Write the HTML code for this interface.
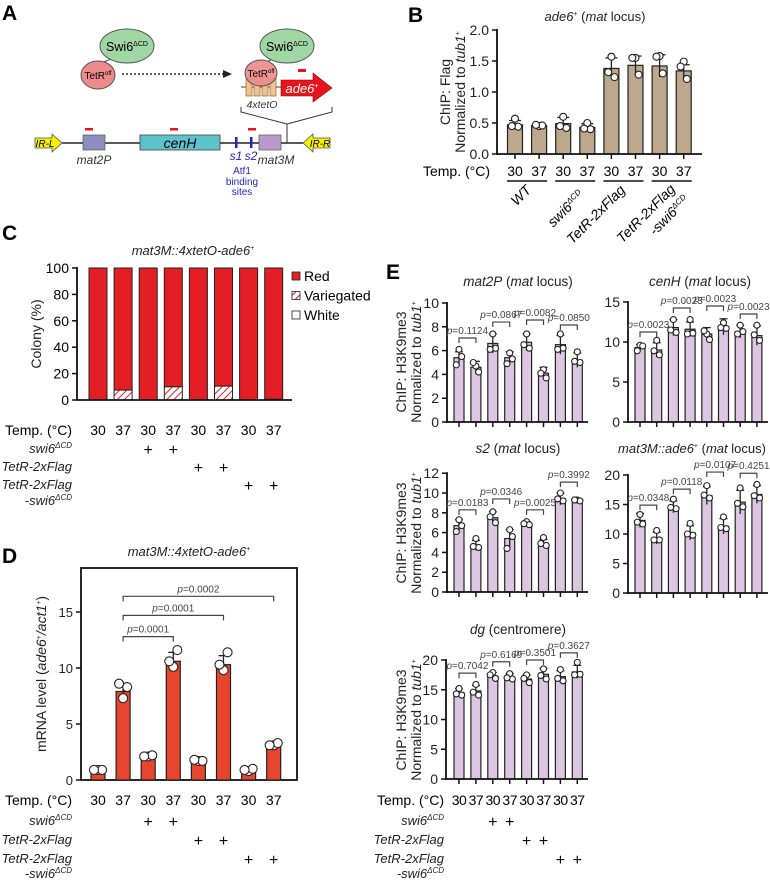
<!DOCTYPE html>
<html><head><meta charset="utf-8"><style>
html,body{margin:0;padding:0;background:#fff}
svg{display:block;font-family:"Liberation Sans",Arial,sans-serif}
</style></head><body>
<svg id="fig" width="770" height="880" viewBox="0 0 770 880" xmlns="http://www.w3.org/2000/svg">
<defs>
<pattern id="hatch" width="5" height="5" patternUnits="userSpaceOnUse" patternTransform="rotate(45)">
<rect width="5" height="5" fill="#fff"/><line x1="0" y1="0" x2="0" y2="5" stroke="#e31e24" stroke-width="2"/>
</pattern>
</defs>
<!-- Panel A -->
<g>
<text x="2" y="20" font-size="21" font-weight="bold">A</text>
<line x1="104" y1="62" x2="118" y2="56" stroke="#555" stroke-width="1"/>
<ellipse cx="127" cy="46" rx="27" ry="17" fill="#9fd6a4" stroke="#555"/>
<text x="127" y="51" font-size="12.5" text-anchor="middle">Swi6<tspan font-size="7" dy="-5">ΔCD</tspan></text>
<ellipse cx="98" cy="75" rx="17" ry="14" fill="#ee8a8a" stroke="#555"/>
<text x="98" y="79" font-size="10" text-anchor="middle">TetR<tspan font-size="6" dy="-4">off</tspan></text>
<line x1="122" y1="74" x2="226" y2="74" stroke="#222" stroke-width="1.6" stroke-dasharray="2,2"/>
<polygon points="232,74 223,70 223,78" fill="#222"/>
<line x1="241" y1="87" x2="282" y2="87" stroke="#444" stroke-width="1"/>
<g>
<rect x="246" y="78" width="6" height="18" fill="#f5c08a" stroke="#8a6a40" stroke-width="0.7"/>
<rect x="254" y="78" width="6" height="18" fill="#f5c08a" stroke="#8a6a40" stroke-width="0.7"/>
<rect x="262" y="78" width="6" height="18" fill="#f5c08a" stroke="#8a6a40" stroke-width="0.7"/>
<rect x="270" y="78" width="6" height="18" fill="#f5c08a" stroke="#8a6a40" stroke-width="0.7"/>
</g>
<line x1="266" y1="62" x2="278" y2="57" stroke="#555" stroke-width="1"/>
<ellipse cx="287" cy="46" rx="27" ry="17" fill="#9fd6a4" stroke="#555"/>
<text x="287" y="51" font-size="12.5" text-anchor="middle">Swi6<tspan font-size="7" dy="-5">ΔCD</tspan></text>
<ellipse cx="261" cy="73" rx="16" ry="13" fill="#ee8a8a" stroke="#555" fill-opacity="0.9"/>
<text x="261" y="77" font-size="10" text-anchor="middle">TetR<tspan font-size="6" dy="-4">off</tspan></text>
<polygon points="281,80 313,80 313,73 332,88 313,102 313,96 281,96" fill="#e8141c" stroke="#900" stroke-width="0.6"/>
<text x="302" y="93" font-size="13" font-style="italic" fill="#fff" text-anchor="middle">ade6<tspan font-size="7" dy="-5">+</tspan></text>
<rect x="298" y="69" width="8" height="3" fill="#e8141c"/>
<text x="262" y="108" font-size="10.5" font-style="italic" fill="#333" text-anchor="middle">4xtetO</text>
<polyline points="241,107 241,112 287,124 332,112 332,107" fill="none" stroke="#333" stroke-width="1"/>
<line x1="287" y1="124" x2="287" y2="143" stroke="#333" stroke-width="1"/>
<line x1="62" y1="143" x2="303" y2="143" stroke="#222" stroke-width="1.6"/>
<polygon points="35,138 52,138 52,134 62,143 52,152 52,148 35,148" fill="#f4f000" stroke="#555" stroke-width="0.8"/>
<text x="45" y="147" font-size="10" font-style="italic" text-anchor="middle">IR-L</text>
<polygon points="330,138 313,138 313,134 303,143 313,152 313,148 330,148" fill="#f4f000" stroke="#555" stroke-width="0.8"/>
<text x="320" y="147" font-size="10" font-style="italic" text-anchor="middle">IR-R</text>
<rect x="83" y="135" width="22" height="15" fill="#8d8fbf" stroke="#555" stroke-width="0.7"/>
<rect x="140" y="135" width="80" height="15" fill="#5cc3cc" stroke="#444" stroke-width="0.8"/>
<text x="180" y="148" font-size="14" font-style="italic" text-anchor="middle">cenH</text>
<rect x="259" y="135" width="22" height="15" fill="#b99acb" stroke="#555" stroke-width="0.7"/>
<rect x="235" y="137" width="2.5" height="11" fill="#2222cc"/><rect x="250" y="137" width="2.5" height="11" fill="#2222cc"/>
<rect x="85" y="128" width="8" height="2.5" fill="#e8141c"/><rect x="170" y="128" width="8" height="2.5" fill="#e8141c"/><rect x="248" y="128" width="8" height="2.5" fill="#e8141c"/>
<text x="94" y="164" font-size="12" font-style="italic" fill="#333" text-anchor="middle">mat2P</text>
<text x="276" y="164" font-size="12" font-style="italic" fill="#333" text-anchor="middle">mat3M</text>
<text x="236" y="160" font-size="12" font-style="italic" fill="#2222cc" text-anchor="middle">s1</text>
<text x="251" y="160" font-size="12" font-style="italic" fill="#2222cc" text-anchor="middle">s2</text>
<text x="242" y="174" font-size="10" fill="#2222cc" text-anchor="middle">Atf1</text>
<text x="242" y="185" font-size="10" fill="#2222cc" text-anchor="middle">binding</text>
<text x="242" y="195" font-size="10" fill="#2222cc" text-anchor="middle">sites</text>
</g>
<g id="charts"></g>
</svg>
<script>
// ---------- Data ----------
const categories = ['30','37','30','37','30','37','30','37'];
const bValues = [0.47,0.46,0.49,0.43,1.38,1.43,1.42,1.34];
const bSd = [0.07,0.01,0.1,0.06,0.17,0.15,0.18,0.1];
const bPoints = [[0.57,0.44,0.45],[0.45,0.46,0.47],[0.6,0.42,0.45],[0.5,0.4,0.41],[1.57,1.24,1.32],[1.55,1.28,1.55],[1.58,1.3,1.57],[1.49,1.21,1.41]];
const bTicks = ['0.0','0.5','1.0','1.5','2.0'];
const cVariegated = [0,7.5,0,10,0,10.5,0,0.5];
const cRed = [100,92.5,100,90,100,89.5,100,99.5];
const cTicks = [0,20,40,60,80,100];
const dValues = [0.9,7.9,2.1,10.6,1.7,10.3,0.9,3.0];
const dSd = [0.05,0.6,0.1,0.8,0.05,0.8,0.1,0.15];
const dPoints = [[0.9,0.9,0.9],[7.3,8.3,8.6],[2.1,2.2,2.1],[10.1,11.6,10.6],[1.7,1.7,1.8],[9.8,11.4,10.3],[0.8,1.0,0.9],[3.1,3.3,3.1]];
const dTicks = [0,5,10,15];
const dPvals = ['p=0.0001','p=0.0001','p=0.0002'];
const dPairs = [[1,3],[1,5],[1,7]];
const dPy = [12.8,14.7,16.4];
const e1Values = [5.4,4.6,6.6,5.4,6.7,4.1,6.5,5.2];
const e1Sd = [0.5,0.5,0.8,0.5,0.7,0.5,0.8,0.6];
const e1Points = [[6.1,5.5,4.8],[4.7,4.2,5.0],[7.4,6.2,6.1],[5.8,5.3,4.9],[7.4,6.2,6.5],[4.4,3.7,4.1],[7.4,6.2,6.1],[5.9,5.0,5.1]];
const e1P = ['p=0.1124','p=0.0867','p=0.0082','p=0.0850'];
const e1Ph = [7.06,8.4,8.57,8.15];
const e2Values = [9.3,9.0,11.8,11.6,11.0,11.9,11.3,10.8];
const e2Sd = [0.4,0.9,1.0,0.9,0.8,1.0,0.8,1.2];
const e2Points = [[9.6,9.5,8.9],[10.2,8.4,8.9],[12.8,11.2,11.5],[12.8,11.1,11.0],[11.0,10.3,11.4],[12.4,11.7,11.8],[12.1,11.3,11.0],[12.1,10.2,10.9]];
const e2P = ['p=0.0023','p=0.0023','p=0.0023','p=0.0023'];
const e2Ph = [11.25,14.25,14.5,13.5];
const e3Values = [6.7,4.7,7.5,5.4,6.9,4.9,9.4,9.2];
const e3Sd = [0.6,0.5,0.6,0.9,0.2,0.4,0.6,0.1];
const e3Points = [[7.3,6.7,6.1],[5.4,4.5,4.6],[8.1,7.0,7.6],[6.3,5.6,4.4],[7.1,6.8,6.9],[5.5,4.7,4.9],[10.0,9.2,9.4],[9.3,9.2,9.3]];
const e3P = ['p=0.0183','p=0.0346','p=0.0025','p=0.3992'];
const e3Ph = [8.3,9.4,8.3,11.1];
const e4Values = [12.3,9.3,14.6,10.2,16.5,11.3,15.4,16.7];
const e4Sd = [1.2,1.0,1.0,1.2,1.5,1.3,2.0,1.5];
const e4Points = [[13.3,11.7,12.0],[10.6,9.0,9.0],[15.9,14.3,14.5],[11.8,9.8,10.0],[18.2,16.1,16.6],[12.9,10.9,11.1],[17.8,14.6,15.2],[18.4,16.1,16.5]];
const e4P = ['p=0.0348','p=0.0118','p=0.0107','p=0.4251'];
const e4Ph = [14.9,17.6,20.5,20.3];
const e5Values = [14.5,14.8,17.3,17.1,16.8,17.6,17.2,18.0];
const e5Sd = [0.7,0.9,0.6,0.6,0.7,1.0,1.0,1.1];
const e5Points = [[15.2,14.1,14.3],[15.9,14.1,14.6],[17.9,16.9,17.5],[17.7,16.8,17.0],[17.5,16.2,16.9],[18.5,16.8,17.4],[18.4,16.5,16.9],[19.6,17.6,17.5]];
const e5P = ['p=0.7042','p=0.6169','p=0.3501','p=0.3627'];
const e5Ph = [17.8,19.7,20.0,21.2];

const NS='http://www.w3.org/2000/svg';
const root=document.getElementById('charts');
function mk(tag,attrs,parent,txt){const e=document.createElementNS(NS,tag);for(const k in attrs)e.setAttribute(k,attrs[k]);if(txt!==undefined)e.textContent=txt;(parent||root).appendChild(e);return e;}
function grp(name){const g=mk('g',{});


return g;}

function barChart(o){
  const g=grp(o.name);
  const y=v=>o.y0-v*o.k;
  const xs=o.values.map((_,i)=>o.x0+i*o.dx);
  o.values.forEach((v,i)=>{
    const r=mk('rect',{x:xs[i]-o.bw/2,y:y(v),width:o.bw,height:o.y0-y(v),fill:o.fill,stroke:'#222','stroke-width':1.2},g);
    
    
    const sd=o.sd[i];
    mk('line',{x1:xs[i],x2:xs[i],y1:y(v-sd),y2:y(v+sd),stroke:'#222','stroke-width':1.3},g);
    mk('line',{x1:xs[i]-o.cap,x2:xs[i]+o.cap,y1:y(v+sd),y2:y(v+sd),stroke:'#222','stroke-width':1.3},g);
    const offs=[0,o.pr*0.9,-o.pr*0.9];
    o.points[i].forEach((p,j)=>{
      const c=mk('circle',{cx:xs[i]+offs[j],cy:y(p),r:o.pr,fill:'#fff',stroke:'#222','stroke-width':1.1},g);
      
      
    });
    if(o.tickMarks) mk('line',{x1:xs[i],x2:xs[i],y1:o.y0,y2:o.y0+5,stroke:'#111','stroke-width':1.5},g);
  });
  if(!o.box){
    mk('line',{x1:o.ax,x2:o.ax,y1:y(o.tickVals[o.tickVals.length-1])-1,y2:o.y0+1,stroke:'#111','stroke-width':1.8},g);
    mk('line',{x1:o.ax,x2:o.axEnd,y1:o.y0,y2:o.y0,stroke:'#111','stroke-width':1.8},g);
  }
  o.ticks.forEach((t,i)=>{
    const v=o.tickVals[i];
    mk('line',{x1:o.ax-5,x2:o.ax,y1:y(v),y2:y(v),stroke:'#111','stroke-width':1.5},g);
    mk('text',{x:o.ax-8,y:y(v)+5,'font-size':o.tf,'text-anchor':'end',fill:'#222'},g,t);
  });
  if(o.pv){o.pv.forEach((p,i)=>{
    const a=o.pairs?o.pairs[i][0]:2*i,b=o.pairs?o.pairs[i][1]:2*i+1;
    const yy=y(o.ph[i]);
    mk('polyline',{points:`${xs[a]},${yy+5} ${xs[a]},${yy} ${xs[b]},${yy} ${xs[b]},${yy+5}`,fill:'none',stroke:'#444','stroke-width':1.2},g);
    const t=mk('text',{x:(xs[a]+xs[b])/2,y:yy-4,'font-size':o.pf,'text-anchor':'middle',fill:'#444'},g);
    mk('tspan',{'font-style':'italic'},t,'p');
    mk('tspan',{},t,p.slice(1));
  });}
  return {g,xs,y};
}
function title(x,y,parts,fs){const t=mk('text',{x,y,'font-size':fs||14,'text-anchor':'middle',fill:'#222'});
  parts.forEach(p=>{mk('tspan',p.a||{},t,p.t);});return t;}
function ylab(x,y,l1,fs){const t=mk('text',{transform:`translate(${x},${y}) rotate(-90)`,'font-size':fs||14,'text-anchor':'middle',fill:'#222'});
  l1.forEach(p=>mk('tspan',p.a||{},t,p.t));return t;}

// ---------- Panel B ----------
mk('text',{x:408,y:22,'font-size':21,'font-weight':'bold'},root,'B');
const B=barChart({name:'panel-b-chart',values:bValues,sd:bSd,points:bPoints,x0:515,dx:24.1,bw:15,y0:154,k:62,ax:497,axEnd:702,ticks:bTicks,tickVals:[0,0.5,1,1.5,2],tf:14,fill:'#bda78d',pr:3.5,cap:6,tickMarks:true});
title(595,21,[{t:'ade6',a:{'font-style':'italic'}},{t:'+',a:{'font-size':7,dy:-5}},{t:' (',a:{dy:5}},{t:'mat',a:{'font-style':'italic'}},{t:' locus)'}],13);
ylab(450,92,[{t:'ChIP: Flag'}]);
ylab(465,92,[{t:'Normalized to '},{t:'tub1',a:{'font-style':'italic'}},{t:'+',a:{'font-size':7,dy:-5}}]);
mk('text',{x:490,y:176,'font-size':14,'text-anchor':'end'},root,'Temp. (°C)');
B.xs.forEach((x,i)=>mk('text',{x,y:176,'font-size':14,'text-anchor':'middle'},root,categories[i]));
[0,2,4,6].forEach(i=>mk('line',{x1:B.xs[i]-8,x2:B.xs[i+1]+8,y1:181,y2:181,stroke:'#111','stroke-width':1.4}));
[['WT',532,191],['swi6ΔCD',585,196],['TetR-2xFlag',626,191],['TetR-2xFlag',676,190],['-swi6ΔCD',690,201]].forEach(([s,x,yy])=>{
  const t=mk('text',{transform:`translate(${x},${yy}) rotate(-45)`,'font-size':14,'font-style':'italic','text-anchor':'end'});
  if(s.includes('ΔCD')){mk('tspan',{},t,s.replace('ΔCD',''));mk('tspan',{'font-size':8,dy:-5},t,'ΔCD');}else t.textContent=s;
});

// ---------- Panel C ----------
mk('text',{x:2,y:240,'font-size':21,'font-weight':'bold'},root,'C');
title(193,255,[{t:'mat3M::4xtetO-ade6',a:{'font-style':'italic'}},{t:'+',a:{'font-size':7,dy:-5}}],13);
function condRows(xs,rows,rx,row4b){
  const labs=[['swi6',true],['TetR-2xFlag',false],['TetR-2xFlag',false]];
  labs.forEach(([s,sup],r)=>{
    const t=mk('text',{x:rx,y:rows[r],'font-size':13,'font-style':'italic','text-anchor':'end',fill:'#222'});
    mk('tspan',{},t,s); if(sup) mk('tspan',{'font-size':8,dy:-5},t,'ΔCD');
    [2*r+2,2*r+3].forEach(i=>mk('text',{x:xs[i],y:rows[r]+2,'font-size':16,'text-anchor':'middle'},root,'+'));
  });
  const t=mk('text',{x:rx,y:row4b,'font-size':13,'font-style':'italic','text-anchor':'end',fill:'#222'});
  mk('tspan',{},t,'-swi6');mk('tspan',{'font-size':8,dy:-5},t,'ΔCD');
}
(function(){
  const g=grp('panel-c-chart');
  const y0=400,k=1.32,ax=77,xs=cRed.map((_,i)=>98+i*25.1),bw=18;
  cRed.forEach((r,i)=>{
    const v=cVariegated[i];
    const rr=mk('rect',{x:xs[i]-bw/2,y:y0-100*k,width:bw,height:r*k,fill:'#e31e24',stroke:'#222','stroke-width':1},g);
    
    
    if(v>0){const h=mk('rect',{x:xs[i]-bw/2,y:y0-v*k,width:bw,height:v*k,fill:'url(#hatch)',stroke:'#222','stroke-width':1},g);
      
      }
  });
  mk('line',{x1:ax,x2:ax,y1:y0-100*k-1,y2:y0,stroke:'#111','stroke-width':1.8},g);
  mk('line',{x1:ax,x2:292,y1:y0,y2:y0,stroke:'#111','stroke-width':1.8},g);
  cTicks.forEach(t=>{mk('line',{x1:ax-5,x2:ax,y1:y0-t*k,y2:y0-t*k,stroke:'#111','stroke-width':1.5},g);
    mk('text',{x:ax-8,y:y0-t*k+5,'font-size':14,'text-anchor':'end'},g,String(t));});
  ylab(41,y0-50*k,[{t:'Colony (%)'}]);
  const L=grp('panel-c-legend');
  [['Red','#e31e24'],['Variegated','url(#hatch)'],['White','#fff']].forEach(([s,f],i)=>{
    mk('rect',{x:292,y:272+i*19.5,width:8,height:8,fill:f,stroke:'#222','stroke-width':0.8},L);
    mk('text',{x:304,y:281+i*19.5,'font-size':14},L,s);
  });
  mk('text',{x:72,y:435,'font-size':14,'text-anchor':'end'},root,'Temp. (°C)');
  xs.forEach((x,i)=>mk('text',{x,y:435,'font-size':14,'text-anchor':'middle'},root,categories[i]));
  condRows(xs,[453,471,489],72,505);
})();

// ---------- Panel D ----------
mk('text',{x:2,y:563,'font-size':21,'font-weight':'bold'},root,'D');
title(189,556,[{t:'mat3M::4xtetO-ade6',a:{'font-style':'italic'}},{t:'+',a:{'font-size':7,dy:-5}}],13);
mk('rect',{x:81,y:568,width:216,height:212,fill:'none',stroke:'#111','stroke-width':1.8});
const D=barChart({name:'panel-d-chart',values:dValues,sd:dSd,points:dPoints,x0:98,dx:25.1,bw:14,y0:780,k:11.2,ax:81,axEnd:297,box:true,ticks:dTicks.map(String),tickVals:dTicks,tf:13,fill:'#e8452e',pr:4.5,cap:5,pv:dPvals,pairs:dPairs,ph:dPy,pf:10});
ylab(46,674,[{t:'mRNA level ('},{t:'ade6',a:{'font-style':'italic'}},{t:'+',a:{'font-size':7,dy:-5}},{t:'/',a:{dy:5,'font-style':'italic'}},{t:'act1',a:{'font-style':'italic'}},{t:'+',a:{'font-size':7,dy:-5}},{t:')',a:{dy:5}}]);
mk('text',{x:72,y:805,'font-size':14,'text-anchor':'end'},root,'Temp. (°C)');
D.xs.forEach((x,i)=>mk('text',{x,y:805,'font-size':14,'text-anchor':'middle'},root,categories[i]));
condRows(D.xs,[825,844,863],72,878);

// ---------- Panel E ----------
mk('text',{x:386,y:279,'font-size':21,'font-weight':'bold'},root,'E');
const eCommon={bw:10,fill:'#dcc6e2',pr:3,cap:4,tf:14,pf:10,tickMarks:true};
barChart(Object.assign({name:'panel-e-mat2p-chart',values:e1Values,sd:e1Sd,points:e1Points,x0:459,dx:16.9,y0:422,k:11.9,ax:447,axEnd:588,ticks:['0','2','4','6','8','10'],tickVals:[0,2,4,6,8,10],pv:e1P,ph:e1Ph},eCommon));
title(518,286,[{t:'mat2P',a:{'font-style':'italic'}},{t:' ('},{t:'mat',a:{'font-style':'italic'}},{t:' locus)'}],13.5);
barChart(Object.assign({name:'panel-e-cenh-chart',values:e2Values,sd:e2Sd,points:e2Points,x0:640,dx:16.7,y0:422,k:8,ax:628,axEnd:768,ticks:['0','5','10','15'],tickVals:[0,5,10,15],pv:e2P,ph:e2Ph},eCommon));
title(700,286,[{t:'cenH',a:{'font-style':'italic'}},{t:' ('},{t:'mat',a:{'font-style':'italic'}},{t:' locus)'}],13.5);
barChart(Object.assign({name:'panel-e-s2-chart',values:e3Values,sd:e3Sd,points:e3Points,x0:459,dx:16.9,y0:592,k:9.9,ax:447,axEnd:588,ticks:['0','2','4','6','8','10','12'],tickVals:[0,2,4,6,8,10,12],pv:e3P,ph:e3Ph},eCommon));
title(518,453,[{t:'s2',a:{'font-style':'italic'}},{t:' ('},{t:'mat',a:{'font-style':'italic'}},{t:' locus)'}],13.5);
barChart(Object.assign({name:'panel-e-mat3m-chart',values:e4Values,sd:e4Sd,points:e4Points,x0:640,dx:16.7,y0:593,k:5.9,ax:628,axEnd:768,ticks:['0','5','10','15','20'],tickVals:[0,5,10,15,20],pv:e4P,ph:e4Ph},eCommon));
title(692,453,[{t:'mat3M::ade6',a:{'font-style':'italic'}},{t:'+',a:{'font-size':7,dy:-5}},{t:' (',a:{dy:5}},{t:'mat',a:{'font-style':'italic'}},{t:' locus)'}],13);
const E5=barChart(Object.assign({name:'panel-e-dg-chart',values:e5Values,sd:e5Sd,points:e5Points,x0:459,dx:16.9,y0:779,k:5.95,ax:446,axEnd:588,ticks:['0','5','10','15','20'],tickVals:[0,5,10,15,20],pv:e5P,ph:e5Ph},eCommon));
title(518,634,[{t:'dg',a:{'font-style':'italic'}},{t:' (centromere)'}],13.5);
[362,533,720].forEach(cy=>{
  ylab(406,cy,[{t:'ChIP: H3K9me3'}]);
  ylab(421,cy,[{t:'Normalized to '},{t:'tub1',a:{'font-style':'italic'}},{t:'+',a:{'font-size':7,dy:-5}}]);
});
mk('text',{x:444,y:805,'font-size':14,'text-anchor':'end'},root,'Temp. (°C)');
E5.xs.forEach((x,i)=>mk('text',{x,y:805,'font-size':14,'text-anchor':'middle','letter-spacing':'-0.5'},root,categories[i]));
condRows(E5.xs,[825,844,863],444,878);
</script>
</body></html>
